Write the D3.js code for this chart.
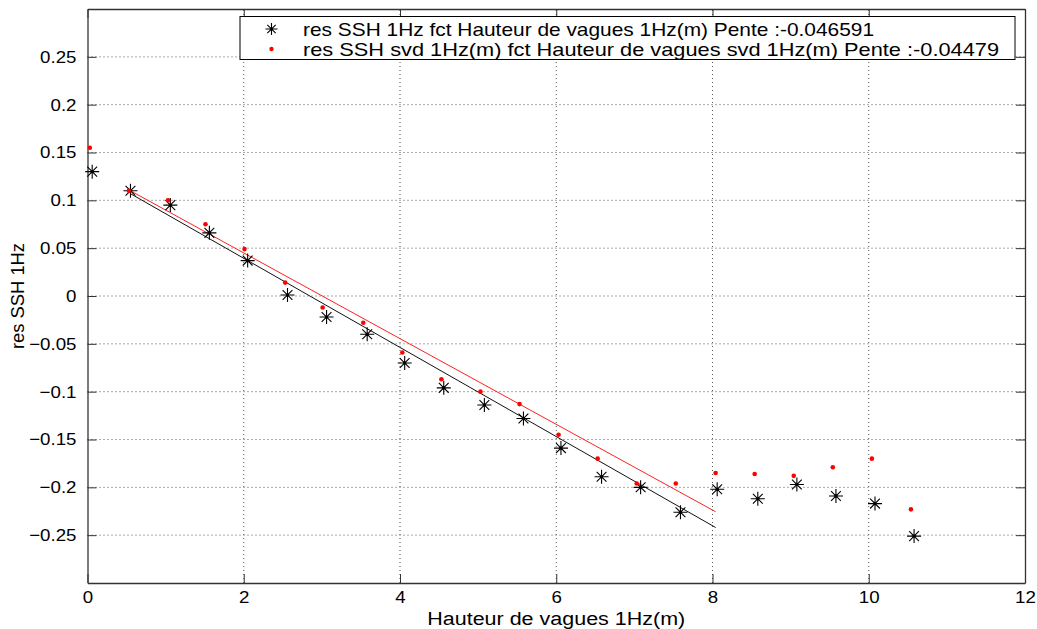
<!DOCTYPE html>
<html>
<head>
<meta charset="utf-8">
<script src="https://cdn.jsdelivr.net/npm/d3@7"></script>
<style>
  body { margin: 0; background: #fff; }
  text { font-family: "Liberation Sans", Arial, sans-serif; }
</style>
</head>
<body>
<script>
// hauteur de vagues (x) et res SSH (y)
const xBlack = [0.06, 0.55, 1.06, 1.56, 2.05, 2.56, 3.06, 3.58, 4.06, 4.56, 5.08, 5.58, 6.06, 6.58, 7.08, 7.59, 8.06, 8.58, 9.08, 9.58, 10.08, 10.58];
const yBlack = [0.130, 0.110, 0.095, 0.066, 0.037, 0.001, -0.022, -0.040, -0.070, -0.096, -0.114, -0.128, -0.159, -0.189, -0.200, -0.226, -0.202, -0.212, -0.197, -0.209, -0.217, -0.251];
const xRed = [0.03, 0.53, 1.03, 1.51, 2.01, 2.53, 3.01, 3.53, 4.03, 4.53, 5.03, 5.53, 6.03, 6.53, 7.03, 7.53, 8.04, 8.54, 9.04, 9.54, 10.04, 10.54];
const yRed = [0.155, 0.110, 0.100, 0.075, 0.049, 0.014, -0.012, -0.028, -0.059, -0.087, -0.100, -0.113, -0.145, -0.170, -0.196, -0.196, -0.185, -0.186, -0.188, -0.179, -0.170, -0.223];

// droites de regression
const fitSlopes = [-0.046591, -0.04479];
const fitIntercepts = [0.1326, 0.1346];
const fitRange = [0.55, 8.04];

const xTicks = [0, 2, 4, 6, 8, 10, 12];
const yTicks = [-0.25, -0.2, -0.15, -0.1, -0.05, 0, 0.05, 0.1, 0.15, 0.2, 0.25];
const legendLabels = [
  "res SSH 1Hz fct Hauteur de vagues 1Hz(m) Pente :-0.046591",
  "res SSH svd 1Hz(m) fct Hauteur de vagues svd 1Hz(m) Pente :-0.04479"
];

const W = 1037, H = 629;
const margin = { top: 9, right: 12, bottom: 46, left: 87.5 };

const svg = d3.select("body").append("svg")
  .attr("width", W).attr("height", H);

const x = d3.scaleLinear().domain([0, 12]).range([margin.left, W - margin.right]);
const y = d3.scaleLinear().domain([-0.3, 0.3]).range([H - margin.bottom, margin.top]);

const x0 = x.range()[0], x1 = x.range()[1], y0 = y.range()[0], y1 = y.range()[1];

// etire le texte horizontalement (police plus large dans l'original)
function stretch(sel, k) {
  sel.each(function () {
    const w = this.getComputedTextLength();
    if (w > 0) d3.select(this).attr("textLength", w * k).attr("lengthAdjust", "spacingAndGlyphs");
  });
}

// grille pointillee
const grid = svg.append("g").attr("stroke", "#555").attr("stroke-dasharray", "1,3").attr("stroke-width", 1);
xTicks.slice(1, -1).forEach(t => {
  grid.append("line").attr("x1", x(t)).attr("x2", x(t)).attr("y1", y0).attr("y2", y1);
});
yTicks.forEach(t => {
  grid.append("line").attr("x1", x0).attr("x2", x1).attr("y1", y(t)).attr("y2", y(t));
});

// axes
const fmt = d => d3.format("")(+d.toFixed(2));
const tickLen = 9;
const axB = svg.append("g").attr("transform", `translate(0,${y0})`)
  .call(d3.axisBottom(x).tickValues(xTicks).tickSizeInner(-tickLen).tickSizeOuter(0).tickPadding(8).tickFormat(fmt));
const axT = svg.append("g").attr("transform", `translate(0,${y1})`)
  .call(d3.axisTop(x).tickValues(xTicks).tickSizeInner(-tickLen).tickSizeOuter(0).tickFormat(""));
const axL = svg.append("g").attr("transform", `translate(${x0},0)`)
  .call(d3.axisLeft(y).tickValues(yTicks).tickSizeInner(-tickLen).tickSizeOuter(0).tickPadding(11).tickFormat(fmt));
const axR = svg.append("g").attr("transform", `translate(${x1},0)`)
  .call(d3.axisRight(y).tickValues(yTicks).tickSizeInner(-tickLen).tickSizeOuter(0).tickFormat(""));

[axB, axT, axL, axR].forEach(a => {
  a.select(".domain").attr("stroke", "#333").attr("stroke-width", 1.3);
  a.selectAll(".tick line").attr("stroke", "#333");
  a.selectAll("text").attr("fill", "#000").style("font-size", "17px")
    .style("font-family", "'Liberation Sans', Arial, sans-serif");
});
stretch(axB.selectAll("text"), 1.1);
stretch(axL.selectAll("text"), 1.1);

// droites
const fitColors = ["#111", "#ff2020"];
fitSlopes.forEach((s, i) => {
  svg.append("line")
    .attr("x1", x(fitRange[0])).attr("y1", y(fitIntercepts[i] + s * fitRange[0]))
    .attr("x2", x(fitRange[1])).attr("y2", y(fitIntercepts[i] + s * fitRange[1]))
    .attr("stroke", fitColors[i]).attr("stroke-width", 1);
});

// marqueur etoile
function star(g, cx, cy, r) {
  const d = `M${cx - r},${cy}H${cx + r}M${cx},${cy - r}V${cy + r}` +
    `M${cx - r * 0.7},${cy - r * 0.7}L${cx + r * 0.7},${cy + r * 0.7}` +
    `M${cx - r * 0.7},${cy + r * 0.7}L${cx + r * 0.7},${cy - r * 0.7}`;
  g.append("path").attr("d", d).attr("stroke", "#000").attr("stroke-width", 1.1).attr("fill", "none");
  g.append("circle").attr("cx", cx).attr("cy", cy).attr("r", 1.6).attr("fill", "#000");
}

const blackG = svg.append("g");
xBlack.forEach((v, i) => star(blackG, x(v), y(yBlack[i]), 7));

svg.append("g").selectAll("circle").data(xRed).join("circle")
  .attr("cx", d => x(d)).attr("cy", (d, i) => y(yRed[i]))
  .attr("r", 2.3).attr("fill", "#ff0000");

// legende
const leg = svg.append("g");
leg.append("rect").attr("x", 240).attr("y", 16.5).attr("width", 775).attr("height", 43)
  .attr("fill", "#fff").attr("stroke", "#000").attr("stroke-width", 1);
star(leg, 271.5, 29, 6);
leg.append("circle").attr("cx", 271.5).attr("cy", 49).attr("r", 2.2).attr("fill", "#ff0000");
const legWidths = [571, 696];
legendLabels.forEach((t, i) => {
  leg.append("text").attr("x", 303).attr("y", 29 + i * 20).attr("dy", "0.36em")
    .attr("textLength", legWidths[i]).attr("lengthAdjust", "spacingAndGlyphs")
    .style("font-size", "18.5px").text(t);
});

// titres des axes
svg.append("text").attr("x", (x0 + x1) / 2).attr("y", 625).attr("text-anchor", "middle")
  .attr("textLength", 258).attr("lengthAdjust", "spacingAndGlyphs")
  .style("font-size", "18px").text("Hauteur de vagues 1Hz(m)");
svg.append("text").attr("transform", `translate(24,${(y0 + y1) / 2}) rotate(-90)`)
  .attr("text-anchor", "middle")
  .attr("textLength", 106).attr("lengthAdjust", "spacingAndGlyphs")
  .style("font-size", "18px").text("res SSH 1Hz");
</script>
</body>
</html>
